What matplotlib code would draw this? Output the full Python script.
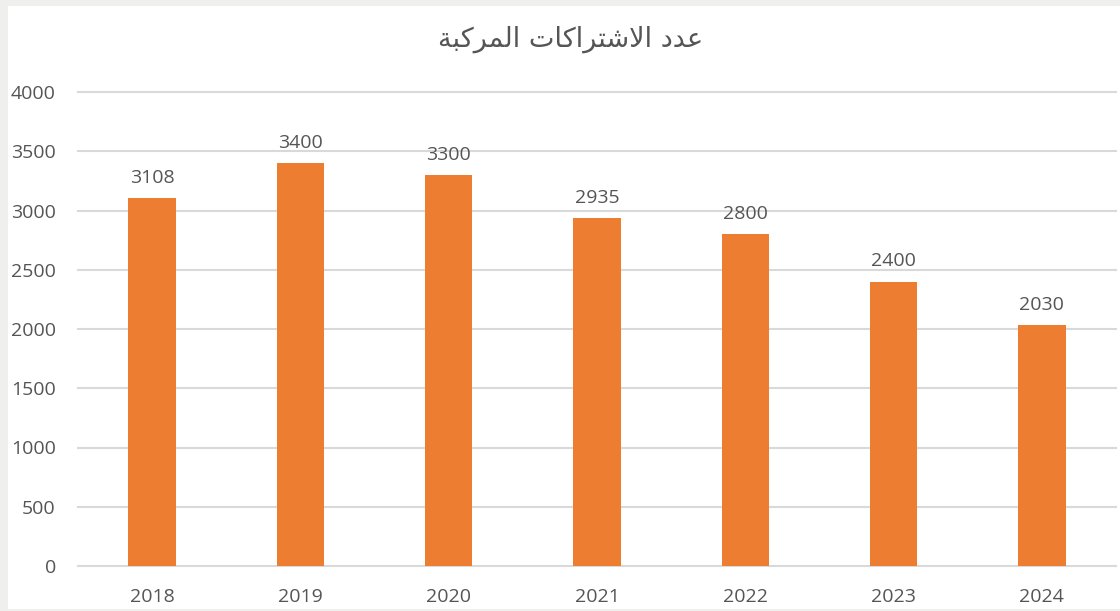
import matplotlib.pyplot as plt
from matplotlib.patches import Rectangle

# data
years = ['2018', '2019', '2020', '2021', '2022', '2023', '2024']
subscriptions = [3108, 3400, 3300, 2935, 2800, 2400, 2030]
y_ticks = [0, 500, 1000, 1500, 2000, 2500, 3000, 3500, 4000]

# title "عدد الاشتراكات المركبة" written in shaped presentation forms, visual order
title_text = ('\uFE94\uFE92\uFEDB\uFEAE\uFEE4\uFEDF\uFE8D'
              ' \uFE95\uFE8E\uFEDB\uFE8D\uFEAE\uFE98\uFEB7\uFEFB\uFE8D'
              ' \uFEA9\uFEAA\uFECB')

bar_color = '#ED7D31'
text_color = '#555555'
grid_color = '#d9d9d9'

fig = plt.figure(figsize=(11.2, 6.11), dpi=100)
fig.patch.set_facecolor('#efefed')
# white chart area on top of the grey slide background
fig.patches.append(Rectangle((8 / 1120, 2 / 611), 1112 / 1120, 603 / 611,
                             transform=fig.transFigure, facecolor='white',
                             edgecolor='none', zorder=-5))

ax = fig.add_axes([78 / 1120, 45 / 611, 1038 / 1120, 474 / 611])
ax.set_facecolor('none')

x = range(len(years))
bars = ax.bar(x, subscriptions, width=0.32, color=bar_color, zorder=3)

for rect, v in zip(bars, subscriptions):
    ax.annotate(str(v), (rect.get_x() + rect.get_width() / 2, v),
                xytext=(0, 8), textcoords='offset points',
                ha='center', va='bottom', fontsize=14,
                family='Open Sans', color=text_color)

ax.set_xlim(-0.5, len(years) - 0.5)
ax.set_ylim(0, 4000)
ax.set_xticks(list(x))
ax.set_xticklabels(years)
ax.set_yticks(y_ticks)
ax.yaxis.grid(True, color=grid_color, linewidth=1.5, zorder=0)
ax.set_axisbelow(True)
# keep the 0 and 4000 gridlines full width (not clipped at the axes edge)
for gl in ax.get_ygridlines():
    gl.set_clip_on(False)
ax.tick_params(axis='both', length=0, labelsize=14, labelcolor=text_color)
ax.tick_params(axis='y', pad=16)
ax.tick_params(axis='x', pad=16)
for lab in ax.get_xticklabels() + ax.get_yticklabels():
    lab.set_family('Open Sans')
for s in ax.spines.values():
    s.set_visible(False)

fig.text(571 / 1120, 1 - 39 / 611, title_text, ha='center', va='center',
         fontsize=19.5, color=text_color, family=['DejaVu Sans'])

fig.savefig('out.png', dpi=100, facecolor=fig.get_facecolor())
